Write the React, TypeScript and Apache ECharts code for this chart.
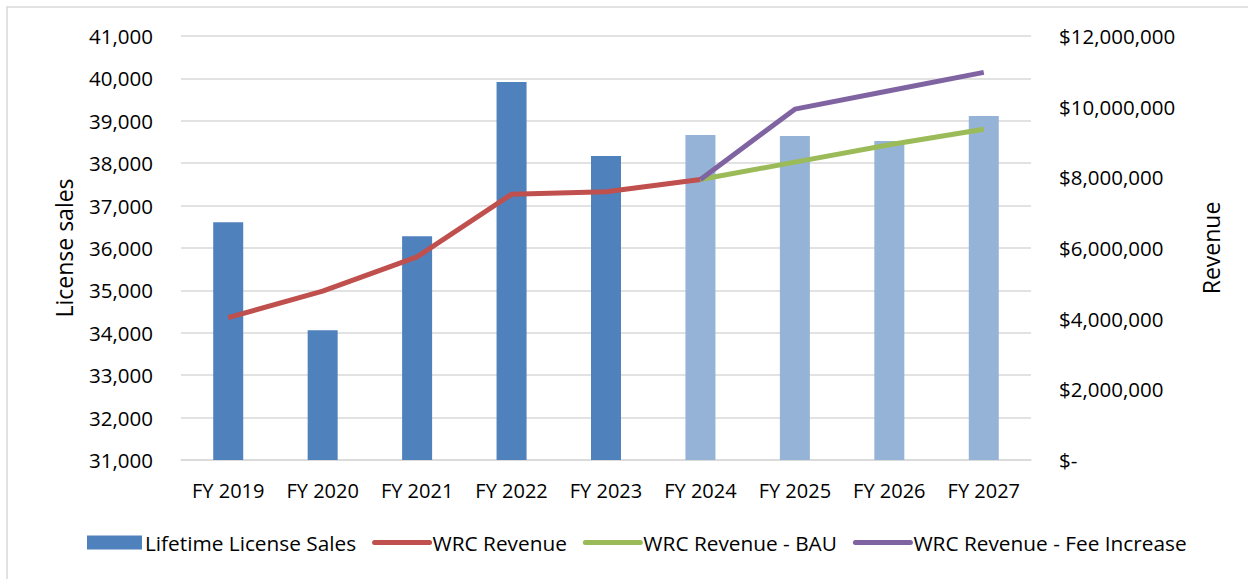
import React, { useEffect, useRef } from "react";
import * as echarts from "echarts";

const categories = ["FY 2019", "FY 2020", "FY 2021", "FY 2022", "FY 2023", "FY 2024", "FY 2025", "FY 2026", "FY 2027"];
const licenseSales = [36606, 34059, 36276, 39915, 38170, 38665, 38642, 38524, 39113];
const projected = [false, false, false, false, false, true, true, true, true];
const wrcRevenue = [4030000, 4780000, 5750000, 7520000, 7590000, 7940000, null, null, null];
const wrcBAU = [null, null, null, null, null, 7940000, 8430000, 8920000, 9360000];
const wrcFee = [null, null, null, null, null, 7940000, 9930000, 10450000, 10970000];

const FONT = "'Open Sans', 'Noto Sans', sans-serif";

export default function App() {
  const ref = useRef<HTMLDivElement>(null);
  useEffect(() => {
    if (!ref.current) return;
    const chart = echarts.init(ref.current, undefined, { renderer: "svg" });
    const txt = { color: "#000", fontFamily: FONT, fontSize: 20.5 };
    const lineItem = (name: string) => ({
      name,
      itemStyle: { opacity: 0 },
      lineStyle: { width: 5, cap: "round" },
    });
    chart.setOption({
      animation: false,
      backgroundColor: "#fff",
      graphic: [
        {
          type: "rect",
          shape: { x: 7, y: 7, width: 1300, height: 700 },
          style: { fill: "none", stroke: "#d9d9d9", lineWidth: 1.5 },
          silent: true,
        },
      ],
      grid: { left: 181, right: 217, top: 36, bottom: 119 },
      legend: {
        left: 87,
        top: 532,
        padding: 0,
        itemWidth: 55,
        itemHeight: 14,
        itemGap: 16,
        textStyle: { ...txt, fontSize: 20.8, padding: [0, 0, 0, -2] },
        data: [
          { name: "Lifetime License Sales", icon: "rect" },
          lineItem("WRC Revenue"),
          lineItem("WRC Revenue - BAU"),
          lineItem("WRC Revenue - Fee Increase"),
        ],
      },
      xAxis: {
        type: "category",
        data: categories,
        axisTick: { show: false },
        axisLine: { lineStyle: { color: "#d9d9d9", width: 1.5 } },
        axisLabel: { ...txt, fontSize: 20, margin: 20, interval: 0 },
      },
      yAxis: [
        {
          type: "value",
          min: 31000,
          max: 41000,
          interval: 1000,
          name: "License sales",
          nameLocation: "middle",
          nameGap: 106,
          nameTextStyle: { ...txt, fontSize: 23 },
          axisLine: { show: false },
          axisTick: { show: false },
          splitLine: { lineStyle: { color: "#d9d9d9", width: 1.5 } },
          axisLabel: {
            ...txt,
            margin: 28,
            formatter: (v: number) => v.toLocaleString("en-US"),
          },
        },
        {
          type: "value",
          min: 0,
          max: 12000000,
          interval: 2000000,
          name: "Revenue",
          nameLocation: "middle",
          nameGap: 168,
          nameRotate: 90,
          nameTextStyle: { ...txt, fontSize: 23 },
          axisLine: { show: false },
          axisTick: { show: false },
          splitLine: { show: false },
          axisLabel: {
            ...txt,
            margin: 28,
            formatter: (v: number) => (v === 0 ? "$-" : "$" + v.toLocaleString("en-US")),
          },
        },
      ],
      series: [
        {
          name: "Lifetime License Sales",
          type: "bar",
          barWidth: 30,
          itemStyle: { color: "#4F81BD" },
          data: licenseSales.map((v, i) => ({
            value: v,
            itemStyle: { color: projected[i] ? "#95B3D7" : "#4F81BD" },
          })),
        },
        {
          name: "WRC Revenue",
          type: "line",
          yAxisIndex: 1,
          symbol: "none",
          lineStyle: { color: "#C0504D", width: 5 },
          itemStyle: { color: "#C0504D" },
          data: wrcRevenue,
        },
        {
          name: "WRC Revenue - BAU",
          type: "line",
          yAxisIndex: 1,
          symbol: "none",
          lineStyle: { color: "#9BBB59", width: 5 },
          itemStyle: { color: "#9BBB59" },
          data: wrcBAU,
        },
        {
          name: "WRC Revenue - Fee Increase",
          type: "line",
          yAxisIndex: 1,
          symbol: "none",
          lineStyle: { color: "#8064A2", width: 5 },
          itemStyle: { color: "#8064A2" },
          data: wrcFee,
        },
      ],
    });
    return () => chart.dispose();
  }, []);
  return (
    <div
      ref={ref}
      style={{ position: "fixed", left: 0, top: 0, width: 1248, height: 579 }}
    />
  );
}
